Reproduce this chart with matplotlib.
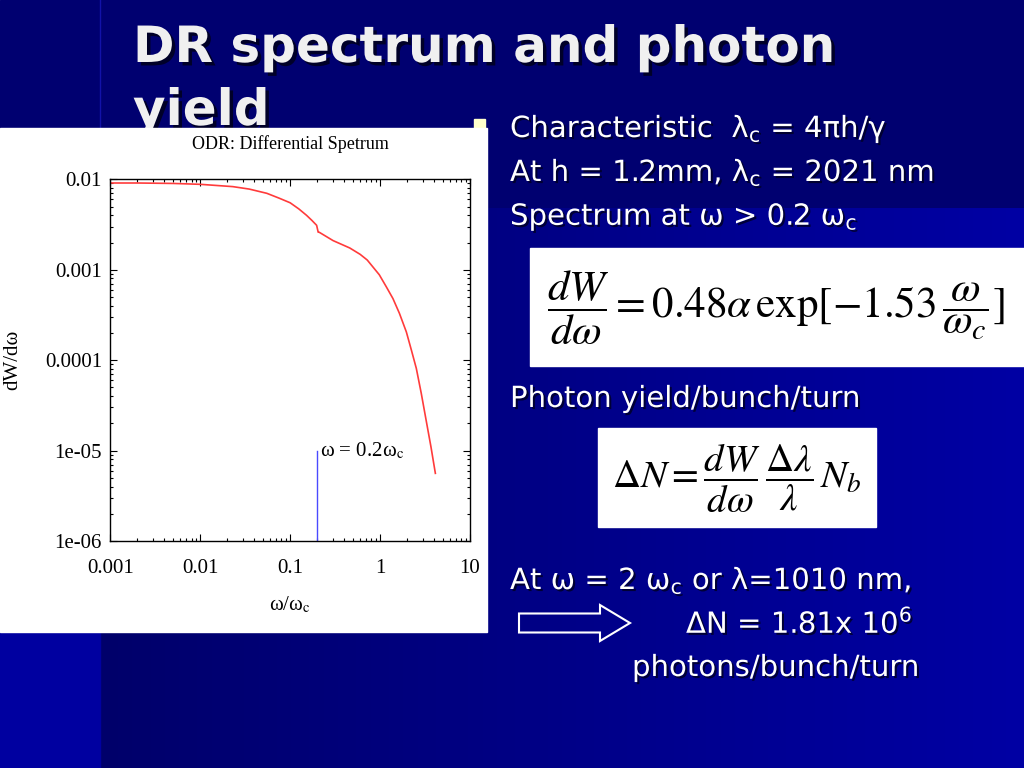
"""Slide: DR spectrum and photon yield."""

import matplotlib

matplotlib.use("Agg")
import matplotlib.pyplot as plt
import matplotlib.patheffects as pe
import numpy as np
from matplotlib.colors import LinearSegmentedColormap
from matplotlib.patches import FancyArrow, Rectangle
from matplotlib.ticker import LogLocator, NullFormatter

# spectrum (omega / omega_c, dW/domega)
omega_ratio = [0.001, 0.002, 0.005, 0.01, 0.023, 0.035, 0.055, 0.075, 0.1, 0.125,
               0.152, 0.175, 0.197, 0.205, 0.21, 0.3, 0.46, 0.6, 0.72, 0.98,
               1.17, 1.39, 1.64, 1.96, 2.23, 2.53, 2.87, 3.27, 3.68, 4.12]
dw_domega = [0.0091, 0.0091, 0.0090, 0.0088, 0.0083, 0.0078, 0.0070, 0.0062, 0.0055, 0.0047,
             0.0040, 0.0035, 0.0031, 0.0026, 0.0026, 0.0021, 0.00174, 0.00148, 0.00128, 0.00088,
             0.00065, 0.00048, 0.00033, 0.000205, 0.000129, 0.000081, 0.000043, 0.000021, 0.000011, 0.0000056]

cut_x = [0.2, 0.2]
cut_y = [1e-6, 1e-5]
cut_label = "ω = 0.2ω$_\\mathrm{c}$"

x_ticks = [1e-3, 1e-2, 1e-1, 1, 10]
x_tick_labels = ["0.001", "0.01", "0.1", "1", "10"]
y_ticks = [1e-6, 1e-5, 1e-4, 1e-3, 1e-2]
y_tick_labels = ["1e-06", "1e-05", "0.0001", "0.001", "0.01"]

title_lines = ["DR spectrum and photon", "yield"]
bullet_lines = [
    "Characteristic  λ$_\\mathrm{c}$ = 4πh/γ",
    "At h = 1.2mm, λ$_\\mathrm{c}$ = 2021 nm",
    "Spectrum at ω > 0.2 ω$_\\mathrm{c}$",
]
eq_spectrum = r"$\dfrac{dW}{d\omega} = 0.48\alpha\,\exp[-1.53\,\dfrac{\omega}{\omega_c}]$"
eq_yield = r"$\Delta N = \dfrac{dW}{d\omega}\,\dfrac{\Delta\lambda}{\lambda}\,N_b$"

SERIF = "Liberation Serif"
SANS = "DejaVu Sans"
shadow = [pe.withSimplePatchShadow(offset=(1.5, -1.5), shadow_rgbFace="#000020", alpha=0.8)]

fig = plt.figure(figsize=(10.24, 7.68), dpi=100)

# background axes in pixel coordinates
bg = fig.add_axes([0, 0, 1, 1])
bg.set_xlim(0, 1024)
bg.set_ylim(768, 0)
bg.axis("off")
bg.add_patch(Rectangle((0, 0), 1024, 768, color="#000070", zorder=0))
grad = LinearSegmentedColormap.from_list("band", ["#00006a", "#0000a4"])
bg.imshow(np.linspace(0, 1, 256).reshape(1, -1), cmap=grad, aspect="auto",
          extent=[100, 1024, 768, 208], zorder=1)
bg.add_patch(Rectangle((0, 208), 100, 560, color="#0000a0", zorder=1))
bg.plot([100, 100], [0, 208], color="#1212a8", lw=1, zorder=1)

for i, line in enumerate(title_lines):
    bg.text(133, 62 + 63 * i, line, color="#f0f0f0", fontsize=36, fontweight="bold",
            family=SANS, va="baseline", ha="left", zorder=3,
            path_effects=[pe.withSimplePatchShadow(offset=(2.5, -2.5), shadow_rgbFace="#000020", alpha=0.9)])
bg.add_patch(Rectangle((474, 119), 11, 11, color="#ffffcc", zorder=3))

# white panel behind the chart
bg.add_patch(Rectangle((0, 128), 487, 504, color="white", zorder=4))

for i, line in enumerate(bullet_lines):
    bg.text(510, 137 + 44 * i, line, color="white", fontsize=21, family=SANS,
            math_fontfamily="dejavusans", va="baseline", ha="left", zorder=5, path_effects=shadow)

bg.add_patch(Rectangle((530, 248), 494, 118, color="white", zorder=5))
bg.text(776, 308, eq_spectrum, fontsize=31, math_fontfamily="stix", color="black",
        ha="center", va="center", zorder=6)

bg.text(510, 407, "Photon yield/bunch/turn", color="white", fontsize=21, family=SANS,
        va="baseline", ha="left", zorder=5, path_effects=shadow)
bg.add_patch(Rectangle((598, 428), 278, 99, color="white", zorder=5))
bg.text(737, 478, eq_yield, fontsize=28, math_fontfamily="stix", color="black",
        ha="center", va="center", zorder=6)

bg.text(510, 589, "At ω = 2 ω$_\\mathrm{c}$ or λ=1010 nm,", color="white", fontsize=21,
        family=SANS, math_fontfamily="dejavusans", va="baseline", ha="left", zorder=5, path_effects=shadow)
bg.add_patch(FancyArrow(519, 623, 111, 0, width=19, head_width=36, head_length=30,
                        length_includes_head=True, facecolor="none", edgecolor="white",
                        lw=1.5, zorder=5))
bg.text(686, 633, "ΔN = 1.81x 10$^{6}$", color="white", fontsize=21, family=SANS,
        math_fontfamily="dejavusans", va="baseline", ha="left", zorder=5, path_effects=shadow)
bg.text(632, 676, "photons/bunch/turn", color="white", fontsize=21, family=SANS,
        va="baseline", ha="left", zorder=5, path_effects=shadow)

# the spectrum chart
ax = fig.add_axes([110.3 / 1024, (768 - 541) / 768, 359.7 / 1024, 361.7 / 768], zorder=2)
ax.set_facecolor("white")
ax.plot(omega_ratio, dw_domega, color="#ff3b3b", lw=1.2)
ax.plot(cut_x, cut_y, color="#4a4aff", lw=1)
ax.annotate(cut_label, xy=(cut_x[1], cut_y[1]), xytext=(2, 0), textcoords="offset points",
            fontsize=15, family=SERIF, math_fontfamily="stix", va="center", ha="left")
ax.set_xscale("log")
ax.set_yscale("log")
ax.set_xlim(1e-3, 10)
ax.set_ylim(1e-6, 1e-2)
ax.set_xticks(x_ticks, x_tick_labels)
ax.set_yticks(y_ticks, y_tick_labels)
ax.xaxis.set_minor_locator(LogLocator(base=10, subs=np.arange(2, 10)))
ax.yaxis.set_minor_locator(LogLocator(base=10, subs=np.arange(2, 10)))
ax.xaxis.set_minor_formatter(NullFormatter())
ax.yaxis.set_minor_formatter(NullFormatter())
ax.tick_params(which="both", direction="in", top=True, right=True, width=0.8, colors="black")
ax.tick_params(which="major", length=5, labelsize=15)
ax.tick_params(axis="x", which="major", pad=13)
ax.tick_params(axis="y", which="major", pad=6)
ax.tick_params(which="minor", length=2.5)
for lab in ax.get_xticklabels() + ax.get_yticklabels():
    lab.set_family(SERIF)
for spine in ax.spines.values():
    spine.set_linewidth(1.0)
ax.set_title("ODR: Differential Spetrum", family=SERIF, fontsize=13, pad=22)
ax.set_xlabel("ω/ω$_\\mathrm{c}$", family=SERIF, math_fontfamily="stix", fontsize=15, labelpad=12)
ax.set_ylabel("dW/dω", family=SERIF, fontsize=15)
ax.yaxis.set_label_coords(-0.245, 0.5)

fig.savefig("out.png", dpi=100)
